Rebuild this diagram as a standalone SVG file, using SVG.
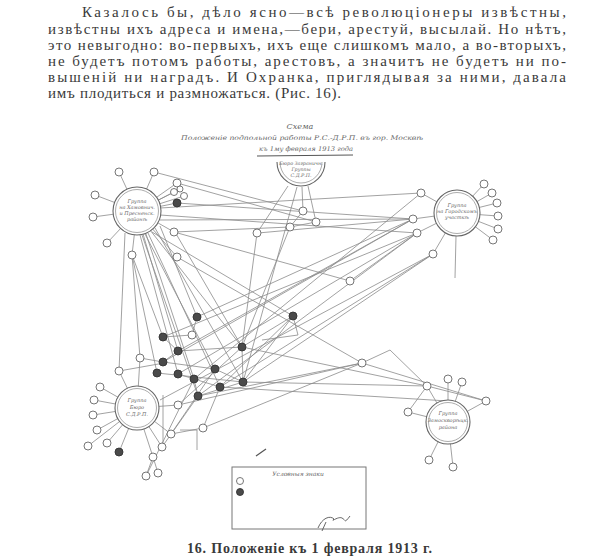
<svg xmlns="http://www.w3.org/2000/svg" width="591" height="559" viewBox="0 0 591 559">
<style>
.body{font-family:"Liberation Serif","DejaVu Serif",serif;font-size:15px;fill:#3a3a3a}
.cap{font-family:"Liberation Serif","DejaVu Serif",serif;font-size:14px;font-weight:bold;fill:#3a3a3a}
.hw{font-family:"DejaVu Serif","Liberation Serif",serif;font-style:italic;fill:#666}
.ln{stroke:#8a8a8a;stroke-width:0.8;fill:none}
.sat{fill:#fff;stroke:#666;stroke-width:0.9}
.dk{fill:#4a4a4a;stroke:#333;stroke-width:0.9}
.hub{fill:#fff;stroke:#666;stroke-width:1.1}
.hubi{fill:none;stroke:#888;stroke-width:0.7}
</style>
<rect width="591" height="559" fill="#fff"/>
<g id="page-text">
<text class="body" x="82" y="17" textLength="484" lengthAdjust="spacing">Казалось бы, дѣло ясно—всѣ революціонеры извѣстны,</text>
<text class="body" x="48" y="34" textLength="518" lengthAdjust="spacing">извѣстны ихъ адреса и имена,—бери, арестуй, высылай. Но нѣтъ,</text>
<text class="body" x="48" y="50" textLength="518" lengthAdjust="spacing">это невыгодно: во-первыхъ, ихъ еще слишкомъ мало, а во-вторыхъ,</text>
<text class="body" x="48" y="66" textLength="518" lengthAdjust="spacing">не будетъ потомъ работы, арестовъ, а значитъ не будетъ ни по-</text>
<text class="body" x="48" y="82" textLength="518" lengthAdjust="spacing">вышеній  ни наградъ. И Охранка, приглядывая за ними, давала</text>
<text class="body" x="48" y="98" textLength="293" lengthAdjust="spacing">имъ плодиться и размножаться. (Рис. 16).</text>
<text class="cap" x="187" y="553" textLength="245" lengthAdjust="spacing">16.  Положеніе къ 1 февраля 1913 г.</text>
</g>
<g id="title">
<text class="hw" x="300" y="129" font-size="8" text-anchor="middle">Схема</text>
<text class="hw" x="181" y="140" font-size="6.5" textLength="242" lengthAdjust="spacingAndGlyphs">Положеніе подпольной работы Р.С.-Д.Р.П. въ гор. Москвѣ</text>
<text class="hw" x="259" y="151" font-size="6.5" textLength="94" lengthAdjust="spacingAndGlyphs">къ 1му февраля 1913 года</text>
<line x1="257" y1="156" x2="353" y2="155" stroke="#555" stroke-width="1"/>
</g>
<g id="connectors">
<path class="ln" d="M137 211L119 172M137 211L154 172M137 211L95 195M137 211L93 217M137 211L107 243M137 211L132 255M137 211L177 183M137 211L177 203M137 211L174 232M137 211L177 257M137 211L174 192M137 211L184 196M137 211L180 189"/>
<path class="ln" d="M457 213L421 193M457 213L484 184M457 213L492 193M457 213L497 203M457 213L498 216M457 213L498 229M457 213L493 240M457 213L433 254M457 213L413 219M457 213L417 233M456 236L455 278"/>
<path class="ln" d="M288 186L257 233M302 187L303 211M308 186L316 222M297 187L243 382M257 233L242 347M290 227L242 347M303 211L290 227M316 222L290 227"/>
<path class="ln" d="M137 408L140 358M137 408L119 371M137 408L100 387M137 408L94 400M137 408L93 415M137 408L97 430M137 408L88 446M137 408L107 443M137 408L119 452M137 408L178 405M137 408L171 434M137 408L162 447M137 408L153 457M153 457L146 476M153 457L158 473M171 434L203 428M163 395L163 450M180 430L197 430L197 450"/>
<path class="ln" d="M448 422L427 386M448 422L448 379M448 422L462 382M448 422L486 401M448 422L408 412M448 422L429 460M448 422L453 467M427 386L486 401M427 386L408 412"/>
<path class="ln" d="M177 203L413 219M160 215L417 233M160 220L413 219M174 232L350 281L417 233M258 233L413 219M154 172L303 211M177 183L316 222M160 208L421 193M150 230L242 347M155 228L243 382M148 233L220 387M145 234L215 369M142 235L198 396M140 235L178 374M132 255L157 373M132 255L163 337M152 232L293 316M177 257L362 363M160 226L197 317M132 255L140 358M125 233L119 371M143 234L178 351M146 234L194 379M175 232L242 347M174 232L290 227"/>
<path class="ln" d="M413 219L197 317M413 219L178 351M417 233L163 337M417 233L178 374M433 254L220 387M417 233L198 396M413 219L163 362M433 254L243 382M160 400L433 254M421 193L194 379"/>
<path class="ln" d="M293 316L242 347M293 316L243 382M293 316L220 387M293 316L298 335L262 340M197 317L192 335M192 335L163 337M163 337L178 351M178 351L242 347M163 362L215 369M157 373L243 382M178 374L220 387M194 379L198 396M215 369L243 382M242 347L243 382M198 396L243 382M178 405L242 347M203 428L220 387M171 434L215 369M162 447L198 396M146 476L194 379M140 358L163 362M119 371L164 363M178 351L163 362"/>
<path class="ln" d="M242 347L427 386M243 382L427 386M220 387L448 401M178 405L362 363M198 396L362 363M362 363L390 350L427 386M203 428L362 363M362 363L486 401"/>
<line x1="256" y1="456" x2="266" y2="449" stroke="#555" stroke-width="1.2"/>
</g>
<g id="hub-1">
<circle class="hub" cx="137" cy="211" r="24"/><circle class="hubi" cx="137" cy="211" r="21.5"/>
<text class="hw" font-size="5" text-anchor="middle"><tspan x="137" y="203">Группа</tspan><tspan x="137" y="209">на Хамовнич.</tspan><tspan x="137" y="215">и Пресненск.</tspan><tspan x="137" y="221">районѣ</tspan></text>
</g>
<g id="hub-2">
<circle class="hub" cx="457" cy="213" r="23"/><circle class="hubi" cx="457" cy="213" r="20.5"/>
<text class="hw" font-size="5" text-anchor="middle"><tspan x="457" y="207">Группа</tspan><tspan x="457" y="213">на Городскомъ</tspan><tspan x="457" y="219">участкѣ</tspan></text>
</g>
<g id="hub-3">
<path class="hub" d="M277 162A24 24 0 0 0 325 162"/><path class="hubi" d="M280 162A21 21 0 0 0 322 162"/>
<text class="hw" font-size="4.8" text-anchor="middle"><tspan x="301" y="165">Бюро Заграничн.</tspan><tspan x="301" y="171">Группы</tspan><tspan x="301" y="177">С.Д.Р.П.</tspan></text>
</g>
<g id="hub-4">
<circle class="hub" cx="137" cy="408" r="22"/><circle class="hubi" cx="137" cy="408" r="19.5"/>
<text class="hw" font-size="5" text-anchor="middle"><tspan x="137" y="402">Группа</tspan><tspan x="137" y="409">Бюро</tspan><tspan x="137" y="416">С.Д.Р.П.</tspan></text>
</g>
<g id="hub-5">
<circle class="hub" cx="448" cy="422" r="22"/><circle class="hubi" cx="448" cy="422" r="19.5"/>
<text class="hw" font-size="5" text-anchor="middle"><tspan x="448" y="415">Группа</tspan><tspan x="448" y="422">Замоскворѣцк.</tspan><tspan x="448" y="429">района</tspan></text>
</g>
<g id="open-nodes">
<circle class="sat" cx="119" cy="172" r="4"/><circle class="sat" cx="154" cy="172" r="4"/><circle class="sat" cx="95" cy="195" r="4"/><circle class="sat" cx="93" cy="217" r="4"/><circle class="sat" cx="107" cy="243" r="4"/><circle class="sat" cx="132" cy="255" r="4"/><circle class="sat" cx="177" cy="183" r="4"/><circle class="sat" cx="174" cy="192" r="3.5"/><circle class="sat" cx="184" cy="196" r="3.5"/><circle class="sat" cx="180" cy="189" r="3"/><circle class="sat" cx="174" cy="232" r="4"/><circle class="sat" cx="177" cy="257" r="4"/>
<circle class="sat" cx="257" cy="233" r="4"/><circle class="sat" cx="303" cy="211" r="4"/><circle class="sat" cx="316" cy="222" r="4"/><circle class="sat" cx="290" cy="227" r="4"/>
<circle class="sat" cx="421" cy="193" r="4"/><circle class="sat" cx="484" cy="184" r="4"/><circle class="sat" cx="492" cy="193" r="4"/><circle class="sat" cx="497" cy="203" r="4"/><circle class="sat" cx="498" cy="216" r="4"/><circle class="sat" cx="498" cy="229" r="4"/><circle class="sat" cx="493" cy="240" r="4"/><circle class="sat" cx="433" cy="254" r="4"/><circle class="sat" cx="413" cy="219" r="4"/><circle class="sat" cx="417" cy="233" r="4"/>
<circle class="sat" cx="192" cy="335" r="4"/><circle class="sat" cx="350" cy="281" r="4"/><circle class="sat" cx="362" cy="363" r="4"/>
<circle class="sat" cx="140" cy="358" r="4"/><circle class="sat" cx="119" cy="371" r="4"/><circle class="sat" cx="100" cy="387" r="4"/><circle class="sat" cx="94" cy="400" r="4"/><circle class="sat" cx="93" cy="415" r="4"/><circle class="sat" cx="97" cy="430" r="4"/><circle class="sat" cx="88" cy="446" r="4"/><circle class="sat" cx="107" cy="443" r="4"/><circle class="sat" cx="178" cy="405" r="4"/><circle class="sat" cx="203" cy="428" r="4"/><circle class="sat" cx="171" cy="434" r="4"/><circle class="sat" cx="162" cy="447" r="4"/><circle class="sat" cx="153" cy="457" r="4"/><circle class="sat" cx="146" cy="476" r="4"/><circle class="sat" cx="158" cy="473" r="4"/>
<circle class="sat" cx="427" cy="386" r="4"/><circle class="sat" cx="448" cy="379" r="4"/><circle class="sat" cx="462" cy="382" r="4"/><circle class="sat" cx="486" cy="401" r="4"/><circle class="sat" cx="408" cy="412" r="4"/><circle class="sat" cx="429" cy="460" r="4"/><circle class="sat" cx="453" cy="467" r="4"/>
</g>
<g id="dark-nodes">
<circle class="dk" cx="177" cy="203" r="4"/><circle class="dk" cx="197" cy="317" r="4"/><circle class="dk" cx="163" cy="337" r="4"/><circle class="dk" cx="178" cy="351" r="4"/><circle class="dk" cx="242" cy="347" r="4"/><circle class="dk" cx="293" cy="316" r="4"/><circle class="dk" cx="163" cy="362" r="4"/><circle class="dk" cx="157" cy="373" r="4"/><circle class="dk" cx="178" cy="374" r="4"/><circle class="dk" cx="194" cy="379" r="4"/><circle class="dk" cx="215" cy="369" r="4"/><circle class="dk" cx="220" cy="387" r="4"/><circle class="dk" cx="243" cy="382" r="4"/><circle class="dk" cx="198" cy="396" r="4"/><circle class="dk" cx="119" cy="452" r="4"/>
</g>
<g id="legend">
<rect x="232" y="467" width="134" height="62" fill="#fff" stroke="#777" stroke-width="1"/>
<text class="hw" x="298" y="476" font-size="6" text-anchor="middle">Условныя знаки</text>
<circle class="sat" cx="240" cy="481" r="3.5"/>
<circle class="dk" cx="240" cy="492" r="3.5"/>
<path d="M318 528C322 518 330 515 334 519C330 523 338 516 342 518C346 520 344 524 350 516M322 531L326 522" stroke="#555" stroke-width="0.9" fill="none"/>
</g>
</svg>
